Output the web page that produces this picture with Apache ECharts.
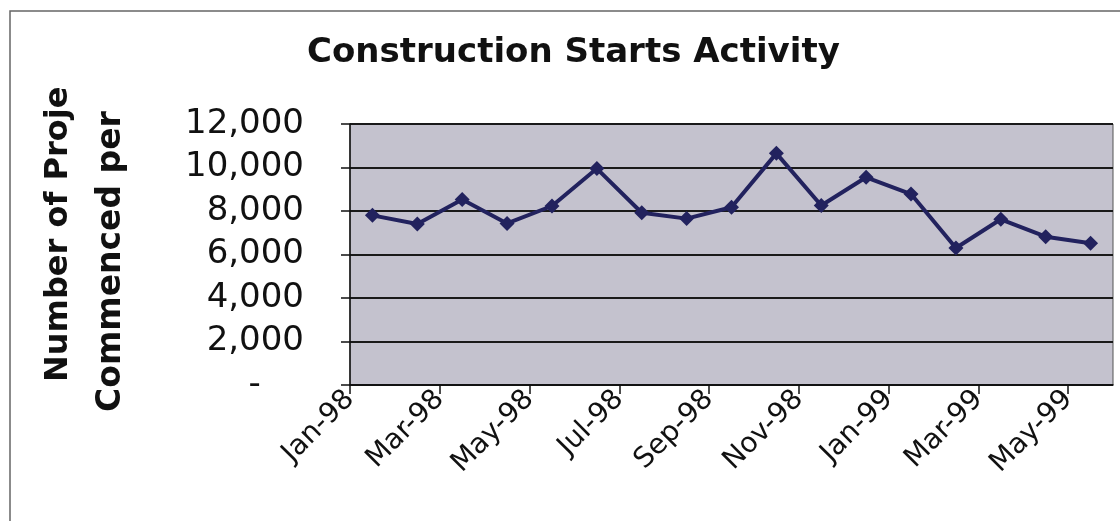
<!DOCTYPE html>
<html>
<head>
<meta charset="utf-8">
<script src="https://cdn.jsdelivr.net/npm/echarts@6/dist/echarts.min.js"></script>
<style>
  html, body { margin: 0; padding: 0; background: #fff; }
  #main { width: 1120px; height: 521px; }
</style>
</head>
<body>
<div id="main"></div>
<script>
// 月份 (Jan-98 .. May-99)
let months = ['Jan-98', 'Feb-98', 'Mar-98', 'Apr-98', 'May-98', 'Jun-98', 'Jul-98', 'Aug-98', 'Sep-98',
  'Oct-98', 'Nov-98', 'Dec-98', 'Jan-99', 'Feb-99', 'Mar-99', 'Apr-99', 'May-99']
// 每月开工项目数
let starts = [7800, 7400, 8530, 7430, 8230, 9950, 7920, 7650, 8170,
  10650, 8250, 9550, 8780, 6300, 7620, 6820, 6520]
let yTicks = [0, 2000, 4000, 6000, 8000, 10000, 12000]

let font = 'DejaVu Sans'
let chart = echarts.init(document.getElementById('main'))

// 点落在每个月的中间
let points = starts.map((v, i) => [i + 0.5, v])
// 每两个月一个刻度
let xTicks = months.map((m, i) => i).filter(i => i % 2 === 0)

let option = {
  backgroundColor: '#fff',
  animation: false,
  title: {
    text: 'Construction Starts Activity',
    left: 302,
    top: 31,
    textStyle: { fontFamily: font, fontSize: 34, fontWeight: 'bold', color: '#111' }
  },
  grid: {
    left: 350,
    right: 7,
    top: 124,
    bottom: 136,
    show: true,
    backgroundColor: '#c4c2ce',
    borderColor: '#555',
    borderWidth: 1
  },
  xAxis: {
    type: 'value',
    min: 0,
    max: months.length,
    interval: 2,
    axisLine: { show: true, lineStyle: { color: '#111', width: 1.5 } },
    axisTick: { show: true, length: 9, customValues: xTicks, lineStyle: { color: '#111', width: 1.5 } },
    splitLine: { show: false },
    axisLabel: {
      rotate: 45,
      margin: 10,
      customValues: xTicks,
      fontFamily: font,
      fontSize: 28,
      color: '#111',
      formatter: v => months[v] || ''
    }
  },
  yAxis: {
    type: 'value',
    min: yTicks[0],
    max: yTicks[yTicks.length - 1],
    interval: 2000,
    axisLine: { show: true, lineStyle: { color: '#111', width: 1.5 } },
    axisTick: { show: true, length: 9, lineStyle: { color: '#111', width: 1.5 } },
    splitLine: { show: true, lineStyle: { color: '#1a1a1a', width: 1.8 } },
    axisLabel: {
      margin: 46,
      fontFamily: font,
      fontSize: 34,
      color: '#111',
      formatter: v => v === 0 ? '-    ' : v.toLocaleString('en-US')
    }
  },
  graphic: [
    // 外框
    {
      type: 'rect',
      shape: { x: 10, y: 11, width: 1200, height: 600 },
      style: { fill: 'none', stroke: '#666', lineWidth: 1.5 },
      silent: true
    },
    // y轴标题 (两行)
    {
      type: 'text',
      x: 59, y: 382,
      rotation: Math.PI / 2,
      style: {
        text: 'Number of Proje',
        fontFamily: font, fontSize: 32, fontWeight: 'bold', fill: '#111',
        textAlign: 'left', textVerticalAlign: 'middle'
      }
    },
    {
      type: 'text',
      x: 111, y: 412,
      rotation: Math.PI / 2,
      style: {
        text: 'Commenced per',
        fontFamily: font, fontSize: 33, fontWeight: 'bold', fill: '#111',
        textAlign: 'left', textVerticalAlign: 'middle'
      }
    }
  ],
  series: [{
    type: 'line',
    data: points,
    symbol: 'diamond',
    symbolSize: 15,
    lineStyle: { color: '#22225e', width: 4 },
    itemStyle: { color: '#22225e' }
  }]
}
chart.setOption(option)
</script>
</body>
</html>
